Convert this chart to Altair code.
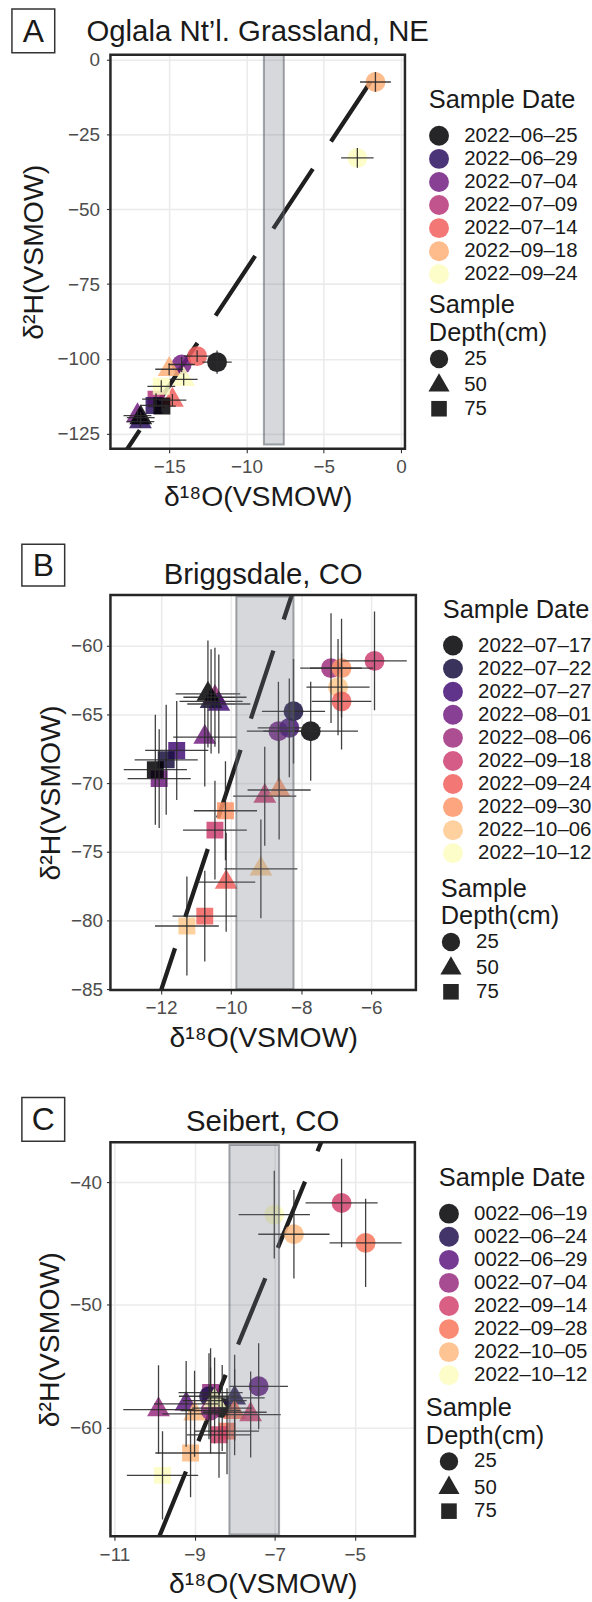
import altair as alt
import pandas as pd

FONT = "Liberation Sans"
X_TITLE = "δ¹⁸O(VSMOW)"
Y_TITLE = "δ²H(VSMOW)"

DEPTHS = ["25", "50", "75"]
# circle / centroid-centred triangle / square, in units of sqrt(size)/2
SHAPES = [
    "circle",
    "M0,-1.33L1.15,0.67L-1.15,0.67Z",
    "M-0.85,-0.85L0.85,-0.85L0.85,0.85L-0.85,0.85Z",
]

# ---------------- A: Oglala Nt'l. Grassland, NE ----------------
a_dates = ["2022–06–25", "2022–06–29", "2022–07–04", "2022–07–09",
           "2022–07–14", "2022–09–18", "2022–09–24"]
a_colors = ["#000004", "#2D1160", "#721F81", "#B63679", "#F1605D", "#FEAF77", "#FCFDBF"]
a_date = ["2022–07–04", "2022–07–14", "2022–06–25", "2022–09–18", "2022–09–24",
          "2022–07–09", "2022–07–14", "2022–09–24", "2022–06–29", "2022–06–25",
          "2022–07–04", "2022–06–29", "2022–06–25", "2022–09–18", "2022–09–24"]
a_depth = ["25", "25", "25", "50", "50", "75", "50", "75", "75", "75",
           "50", "50", "50", "25", "25"]
a_d18o = [-14.19, -13.19, -11.90, -15.00, -14.06, -15.85, -14.79, -15.51, -15.98,
          -15.47, -17.05, -16.86, -16.84, -1.65, -2.82]
a_d2h = [-101.9, -99.1, -101.1, -103.5, -106.9, -113.5, -113.8, -109.2, -115.6,
         -115.8, -119.0, -121.0, -119.7, -7.4, -32.8]
a_d18o_sd = [0.85, 0.85, 0.95, 0.9, 0.9, 0.9, 0.9, 0.9, 0.9, 0.9, 0.9, 0.9, 0.9, 1.0, 1.05]
a_d2h_sd = [2.5, 2.0, 3.9, 2.0, 2.0, 2.0, 2.0, 2.0, 2.0, 2.0, 2.0, 2.0, 2.0, 3.3, 3.3]
a_lmwl = (7.8, 8.0)                     # slope, intercept
a_band = (-8.87, -7.58, -128.7, 1.7)    # d18O min/max, d2H min/max

# ---------------- B: Briggsdale, CO ----------------
b_dates = ["2022–07–17", "2022–07–22", "2022–07–27", "2022–08–01", "2022–08–06",
           "2022–09–18", "2022–09–24", "2022–09–30", "2022–10–06", "2022–10–12"]
b_colors = ["#000004", "#180F3E", "#451077", "#721F81", "#9F2F7F",
            "#CD4071", "#F1605D", "#FD9567", "#FEC98D", "#FCFDBF"]
b_date = ["2022–07–27", "2022–08–01", "2022–07–22", "2022–07–17", "2022–09–30",
          "2022–09–18", "2022–09–24", "2022–10–06",
          "2022–08–06", "2022–07–27", "2022–07–22", "2022–07–17", "2022–08–01",
          "2022–09–18", "2022–09–30", "2022–10–06", "2022–09–24",
          "2022–08–01", "2022–07–27", "2022–07–22", "2022–07–17", "2022–08–06",
          "2022–09–30", "2022–10–06", "2022–09–24", "2022–09–18"]
b_depth = ["75"] * 8 + ["50"] * 9 + ["25"] * 9
b_d18o = [-11.55, -12.05, -11.85, -12.16, -10.16, -10.46, -10.75, -11.26,
          -10.46, -10.35, -10.57, -10.66, -10.75, -9.04, -8.63, -9.15, -10.14,
          -8.65, -8.34, -8.22, -7.73, -7.15, -6.85, -6.95, -6.85, -5.91]
b_d2h = [-67.61, -69.66, -68.29, -69.01, -72.00, -73.41, -79.67, -80.39,
         -63.74, -64.23, -64.04, -63.50, -66.64, -70.94, -70.49, -76.23, -77.20,
         -66.21, -65.97, -64.76, -66.21, -61.62, -61.62, -63.00, -64.04, -61.09]
b_d18o_sd = [0.9, 0.9, 0.9, 0.9, 0.9, 0.91, 0.92, 0.91,
             0.9, 0.9, 0.9, 0.92, 0.9, 0.9, 0.9, 1.04, 0.83,
             0.9, 0.9, 0.9, 1.35, 0.88, 0.9, 0.9, 0.85, 0.92]
b_d2h_sd = [3.6, 3.6, 4.0, 4.0, 3.6, 3.6, 3.3, 3.6,
            3.6, 3.6, 3.8, 3.9, 3.6, 3.6, 3.6, 3.6, 3.6,
            3.6, 3.6, 3.8, 3.6, 4.0, 3.6, 3.5, 3.5, 3.6]
b_lmwl = (7.72, 7.54)
b_band = (-9.85, -8.22, -85.0, -56.4)

# ---------------- C: Seibert, CO ----------------
c_dates = ["0022–06–19", "0022–06–24", "0022–06–29", "0022–07–04",
           "2022–09–14", "2022–09–28", "2022–10–05", "2022–10–12"]
c_colors = ["#000004", "#221150", "#5F187F", "#982D80",
            "#D3436E", "#F8765C", "#FEBA80", "#FCFDBF"]
c_date = ["0022–06–19", "0022–07–04", "0022–06–24", "0022–06–29",
          "0022–07–04", "0022–06–29", "2022–10–05", "0022–07–04", "0022–06–24",
          "2022–09–28", "2022–09–14", "2022–10–12",
          "2022–09–28", "2022–09–14", "2022–10–05", "2022–10–12",
          "2022–10–12", "2022–10–05", "2022–09–14", "2022–09–28"]
c_depth = ["25", "75", "25", "25",
           "50", "50", "50", "25", "50", "50", "50", "50",
           "75", "75", "75", "75",
           "25", "25", "25", "25"]
c_d18o = [-8.31, -8.60, -8.64, -7.40,
          -9.90, -9.21, -9.00, -8.60, -8.00, -8.00, -7.60, -8.50,
          -8.19, -8.39, -9.10, -9.80,
          -7.01, -6.52, -5.33, -4.73]
c_d2h = [-58.40, -57.14, -57.44, -56.63,
         -58.52, -58.06, -58.87, -58.60, -57.57, -58.74, -58.93, -57.79,
         -60.28, -60.58, -62.06, -63.88,
         -42.65, -44.25, -41.70, -44.95]
c_d18o_sd = [0.75, 0.8, 0.75, 0.73,
             0.88, 0.8, 0.8, 0.75, 0.75, 0.8, 0.75, 0.8,
             0.8, 0.8, 0.88, 0.89,
             0.89, 0.89, 0.9, 0.9]
c_d2h_sd = [3.5, 3.6, 3.5, 3.5,
            3.6, 3.5, 3.5, 3.5, 3.5, 3.5, 3.5, 3.5,
            3.5, 3.5, 3.6, 3.6,
            3.57, 3.6, 3.6, 3.6]
c_lmwl = (7.94, 9.6)
c_band = (-8.13, -6.89, -68.7, -36.98)

AXIS_STYLE = dict(
    labelFont=FONT, titleFont=FONT, labelFontSize=19, titleFontSize=28.5,
    labelColor="#4d4d4d", titleColor="#1a1a1a", titleFontWeight="normal",
    tickColor="#333333", tickSize=4, tickWidth=1.1, domain=False,
    grid=True, gridColor="#ebebeb", gridWidth=1.6,
)
LEGEND_STYLE = dict(
    labelFont=FONT, titleFont=FONT, labelFontSize=20.5, titleFontSize=25.5,
    labelColor="#1a1a1a", titleColor="#1a1a1a", titleFontWeight="normal",
    labelOffset=15, orient="none",
)


def panel(letter, title, dates, colors, date, depth, d18o, d2h, d18o_sd, d2h_sd,
          lmwl, band, x_dom, y_dom, x_ticks, y_ticks, w, h, dash_offset,
          title_y, box, color_pos, shape_pos, shape_sym_offset, y_label_pad,
          y_title_pad, spacer_y):
    pts = pd.DataFrame({
        "date": date, "depth": depth, "d18o": d18o, "d2h": d2h,
        "x_lo": [v - e for v, e in zip(d18o, d18o_sd)],
        "x_hi": [v + e for v, e in zip(d18o, d18o_sd)],
        "y_lo": [v - e for v, e in zip(d2h, d2h_sd)],
        "y_hi": [v + e for v, e in zip(d2h, d2h_sd)],
    })
    slope, icpt = lmwl
    line = pd.DataFrame({"d18o": list(x_dom), "d2h": [slope * v + icpt for v in x_dom]})
    rect = pd.DataFrame({"x1": [band[0]], "x2": [band[1]], "y1": [band[2]], "y2": [band[3]]})

    xs = alt.Scale(domain=list(x_dom), nice=False, zero=False)
    ys = alt.Scale(domain=list(y_dom), nice=False, zero=False)
    xa = alt.Axis(values=x_ticks, labelPadding=5, titlePadding=6, **AXIS_STYLE)
    ya = alt.Axis(values=y_ticks, labelPadding=y_label_pad, titlePadding=y_title_pad,
                  **AXIS_STYLE)

    def X(f):
        return alt.X(f, type="quantitative", scale=xs, axis=xa, title=X_TITLE)

    def Y(f):
        return alt.Y(f, type="quantitative", scale=ys, axis=ya, title=Y_TITLE)

    lmwl_layer = alt.Chart(line).mark_line(
        clip=True, color="#1f1f1f", strokeWidth=4.3,
        strokeDash=[72, 33], strokeDashOffset=dash_offset,
    ).encode(x=X("d18o"), y=Y("d2h"))

    points = alt.Chart(pts).mark_point(
        filled=True, size=400, opacity=0.85, strokeWidth=0, clip=True,
    ).encode(
        x=X("d18o"), y=Y("d2h"),
        color=alt.Color("date:N", scale=alt.Scale(domain=dates, range=colors),
                        legend=alt.Legend(
                            title="Sample Date",
                            legendX=color_pos[0], legendY=color_pos[1],
                            symbolType="circle", symbolSize=400, symbolOpacity=0.85,
                            symbolStrokeWidth=0, titlePadding=12, rowPadding=2.2,
                            **LEGEND_STYLE)),
        shape=alt.Shape("depth:N", scale=alt.Scale(domain=DEPTHS, range=SHAPES),
                        legend=alt.Legend(
                            title=["Sample", "Depth(cm)"],
                            legendX=shape_pos[0], legendY=shape_pos[1],
                            symbolSize=340, symbolFillColor="#000000",
                            symbolOpacity=0.85, symbolStrokeWidth=0,
                            symbolOffset=shape_sym_offset,
                            titleLineHeight=28, titlePadding=2, rowPadding=2.5,
                            **LEGEND_STYLE)),
    )

    hbars = alt.Chart(pts).mark_rule(
        color="#2b2b2b", strokeWidth=1.3, opacity=0.9, clip=True,
    ).encode(x=X("x_lo"), x2="x_hi", y=Y("d2h"))
    vbars = alt.Chart(pts).mark_rule(
        color="#2b2b2b", strokeWidth=1.3, opacity=0.9, clip=True,
    ).encode(x=X("d18o"), y=Y("y_lo"), y2="y_hi")

    band_layer = alt.Chart(rect).mark_rect(
        clip=True, fill="#6d7380", fillOpacity=0.28,
        stroke="#5a5f66", strokeOpacity=0.55, strokeWidth=2,
    ).encode(x=X("x1"), x2="x2", y=Y("y1"), y2="y2")

    one = alt.Data(values=[{}])
    border = alt.Chart(one).mark_rect(
        fillOpacity=0, stroke="#262626", strokeWidth=2.5,
    ).encode(x=alt.value(0), x2=alt.value(w), y=alt.value(0), y2=alt.value(h))

    # site name centred over the panel
    site = alt.Chart(one).mark_text(
        text=title, fontSize=29.5, font=FONT, color="#1a1a1a",
        align="center", baseline="alphabetic",
    ).encode(x=alt.value(w / 2), y=alt.value(title_y))

    bx0, bx1, by0, by1 = box
    label_box = alt.Chart(one).mark_rect(
        fill="white", stroke="#333333", strokeWidth=1.5,
    ).encode(x=alt.value(bx0), x2=alt.value(bx1), y=alt.value(by0), y2=alt.value(by1))
    label_txt = alt.Chart(one).mark_text(
        text=letter, fontSize=32, font=FONT, color="#1a1a1a",
        align="center", baseline="middle",
    ).encode(x=alt.value((bx0 + bx1) / 2), y=alt.value((by0 + by1) / 2 + 1))

    layers = [lmwl_layer, points, hbars, vbars, band_layer, border, site,
              label_box, label_txt]
    if spacer_y is not None:
        layers.append(alt.Chart(one).mark_rect(color="white").encode(
            x=alt.value(0), x2=alt.value(1),
            y=alt.value(spacer_y - 1), y2=alt.value(spacer_y)))

    return alt.layer(*layers).properties(
        width=w, height=h,
    ).resolve_scale(color="independent", shape="independent")


chart_a = panel("A", "Oglala Nt’l. Grassland, NE", a_dates, a_colors, a_date, a_depth,
                a_d18o, a_d2h, a_d18o_sd, a_d2h_sd, a_lmwl, a_band,
                (-18.8, 0.26), (-130.1, 1.7), [-15, -10, -5, 0],
                [0, -25, -50, -75, -100, -125], 296, 396, 18.7, -14.3,
                (-99, -56, -46, -2), (320, 33.7), (320, 240), 0, 7, 8, 491)

chart_b = panel("B", "Briggsdale, CO", b_dates, b_colors, b_date, b_depth,
                b_d18o, b_d2h, b_d18o_sd, b_d2h_sd, b_lmwl, b_band,
                (-13.44, -4.73), (-85.05, -56.3), [-12, -10, -8, -6],
                [-60, -65, -70, -75, -80, -85], 307, 397, 75.3, -10.7,
                (-89, -46, -51, -9), (334, 3), (332, 283), 0, 4, 5, 504)

chart_c = panel("C", "Seibert, CO", c_dates, c_colors, c_date, c_depth,
                c_d18o, c_d2h, c_d18o_sd, c_d2h_sd, c_lmwl, c_band,
                (-11.1, -3.5), (-68.84, -36.76), [-11, -9, -7, -5],
                [-40, -50, -60], 306, 396, 82.3, -11.3,
                (-89, -46, -45, -1), (330, 24), (317, 255), 13, 5, 5, None)

chart = alt.concat(
    chart_a, chart_b, chart_c, columns=1, align="none", spacing=0,
).resolve_scale(
    x="independent", y="independent", color="independent", shape="independent",
).resolve_legend(
    color="independent", shape="independent",
).properties(
    padding={"left": 11, "top": 4, "right": 0, "bottom": 0},
    background="white",
).configure(
    font=FONT,
).configure_view(
    strokeOpacity=0,
)

chart.save("out.html", embed_options={"renderer": "svg", "actions": False})
